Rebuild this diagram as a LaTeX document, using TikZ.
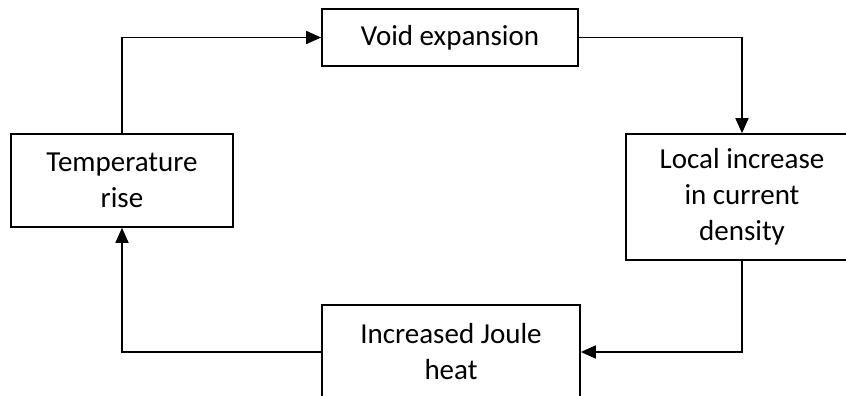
\documentclass[tikz,border=0pt]{standalone}
\usepackage{fontspec}
\setmainfont{Carlito}
\usetikzlibrary{arrows.meta}

\begin{document}
\begin{tikzpicture}[
    x=1pt, y=-1pt,
    block/.style={
      rectangle,
      draw=black,
      fill=white,
      line width=1.6pt,
      inner sep=0pt,
      align=center,
      font=\fontsize{29}{36}\selectfont
    },
    arrow/.style={
      -{Triangle[length=15pt, width=13pt]},
      line width=1.6pt,
      draw=black
    }
  ]
    \useasboundingbox (0,0) rectangle (846,396);

    \node[block, minimum width=256pt, minimum height=57pt] (void) at (450,37.5) {Void expansion};
    \node[block, minimum width=232pt, minimum height=126pt] (local) at (742,197) {Local increase\\in current\\density};
    \node[block, minimum width=258pt, minimum height=94pt] (joule) at (451,352) {Increased Joule\\heat};
    \node[block, minimum width=222pt, minimum height=93pt] (temp) at (122,180.5) {Temperature\\rise};

    \draw[arrow] (temp.north) |- (void.west);
    \draw[arrow] (void.east) -| (local.north);
    \draw[arrow] (local.south) |- (joule.east);
    \draw[arrow] (joule.west) -| (temp.south);

  \end{tikzpicture}
\end{document}
